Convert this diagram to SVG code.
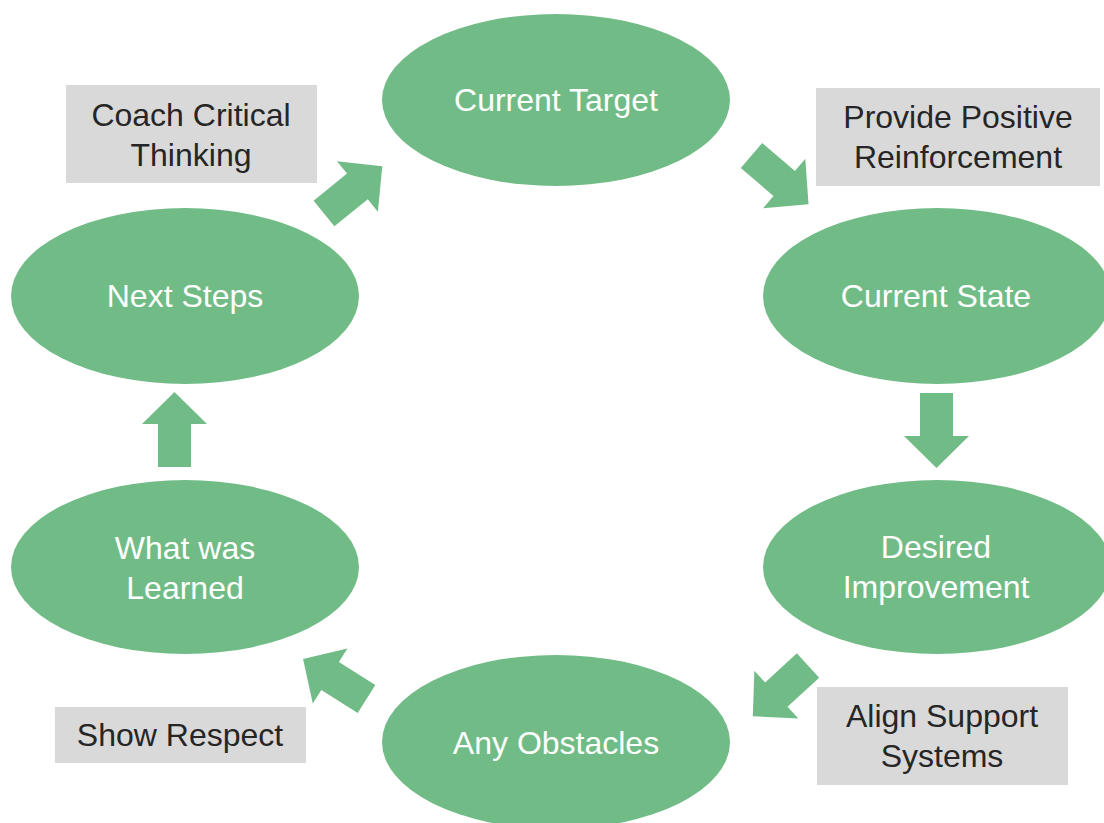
<svg xmlns="http://www.w3.org/2000/svg" width="1104" height="823" viewBox="0 0 1104 823">
  <defs>
    <style>
      .node { fill: #71BC86; }
      .note { fill: #D9D9D9; }
      .arrow { fill: #71BC86; }
      .lbl { font-family: "Liberation Sans", Arial, sans-serif; font-size: 32px; fill: #FFFFFF; text-anchor: middle; }
      .nlbl { font-family: "Liberation Sans", Arial, sans-serif; font-size: 32px; fill: #262626; text-anchor: middle; }
    </style>
    <!-- block arrow pointing along +x, tail at origin, tip at x=75 -->
    <path id="blockArrow" d="M0,-16.5 L43,-16.5 L43,-32.5 L75,0 L43,32.5 L43,16.5 L0,16.5 Z"/>
  </defs>
  <rect width="1104" height="823" fill="#FFFFFF"/>

  <g id="connectors">
    <use href="#blockArrow" class="arrow" transform="translate(324,213.5) rotate(-39)"/>
    <use href="#blockArrow" class="arrow" transform="translate(751.5,155.5) rotate(40.5)"/>
    <use href="#blockArrow" class="arrow" transform="translate(936.5,393) rotate(90)"/>
    <use href="#blockArrow" class="arrow" transform="translate(808,665.5) rotate(137.4)"/>
    <use href="#blockArrow" class="arrow" transform="translate(366.5,699) rotate(212.2)"/>
    <use href="#blockArrow" class="arrow" transform="translate(174.5,467) rotate(-90)"/>
  </g>

  <g id="current-target">
    <ellipse class="node" cx="556" cy="100" rx="174" ry="86"/>
    <text class="lbl" x="556" y="111">Current Target</text>
  </g>
  <g id="current-state">
    <ellipse class="node" cx="937" cy="296" rx="174" ry="88"/>
    <text class="lbl" x="936" y="307">Current State</text>
  </g>
  <g id="desired-improvement">
    <ellipse class="node" cx="937" cy="567" rx="174" ry="87"/>
    <text class="lbl" x="936" y="558">Desired</text>
    <text class="lbl" x="936" y="598">Improvement</text>
  </g>
  <g id="any-obstacles">
    <ellipse class="node" cx="556" cy="742" rx="174" ry="87"/>
    <text class="lbl" x="556" y="754">Any Obstacles</text>
  </g>
  <g id="what-was-learned">
    <ellipse class="node" cx="185" cy="567" rx="174" ry="87"/>
    <text class="lbl" x="185" y="559">What was</text>
    <text class="lbl" x="185" y="599">Learned</text>
  </g>
  <g id="next-steps">
    <ellipse class="node" cx="185" cy="296" rx="174" ry="88"/>
    <text class="lbl" x="185" y="307">Next Steps</text>
  </g>

  <g id="coach-critical-thinking">
    <rect class="note" x="66" y="85" width="251" height="98"/>
    <text class="nlbl" x="191" y="126">Coach Critical</text>
    <text class="nlbl" x="191" y="166">Thinking</text>
  </g>
  <g id="provide-positive-reinforcement">
    <rect class="note" x="816" y="88" width="284" height="98"/>
    <text class="nlbl" x="958" y="128">Provide Positive</text>
    <text class="nlbl" x="958" y="168">Reinforcement</text>
  </g>
  <g id="align-support-systems">
    <rect class="note" x="817" y="687" width="251" height="98"/>
    <text class="nlbl" x="942" y="727">Align Support</text>
    <text class="nlbl" x="942" y="767">Systems</text>
  </g>
  <g id="show-respect">
    <rect class="note" x="55" y="707" width="251" height="56"/>
    <text class="nlbl" x="180" y="746">Show Respect</text>
  </g>
</svg>
